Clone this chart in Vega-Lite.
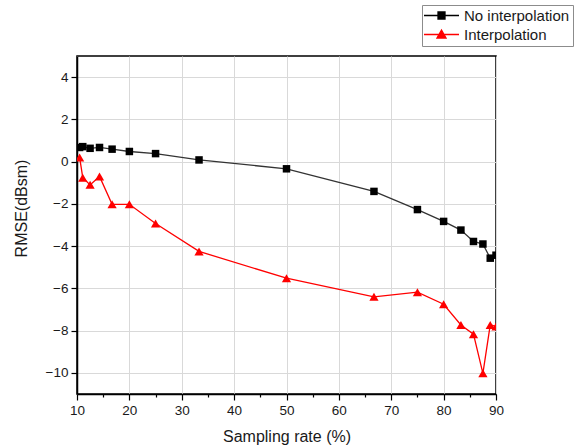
{
  "$schema": "https://vega.github.io/schema/vega-lite/v6.json",
  "autosize": {"type": "none"},
  "width": 419,
  "height": 338,
  "padding": {"left": 77, "top": 56, "right": 90, "bottom": 53},
  "background": "white",
  "config": {
    "font": "Liberation Sans",
    "view": {"stroke": "black", "strokeWidth": 1.5},
    "axis": {
      "domainColor": "black", "domainWidth": 1.5, "ticks": true, "tickColor": "black", "tickWidth": 1.2,
      "labelFont": "Liberation Sans", "labelFontSize": 13.5, "labelColor": "#1a1a1a", "labelFlush": false,
      "titleFont": "Liberation Sans", "titleFontSize": 16, "titleFontWeight": "normal", "titleColor": "#1a1a1a",
      "gridColor": "#d9d9d9", "gridWidth": 1
    }
  },
  "data": {"values": [
    {"rate": 10.5, "rmse": 0.67, "method": "No interpolation"},
    {"rate": 11.1, "rmse": 0.71, "method": "No interpolation"},
    {"rate": 12.5, "rmse": 0.63, "method": "No interpolation"},
    {"rate": 14.3, "rmse": 0.67, "method": "No interpolation"},
    {"rate": 16.7, "rmse": 0.59, "method": "No interpolation"},
    {"rate": 20, "rmse": 0.48, "method": "No interpolation"},
    {"rate": 25, "rmse": 0.38, "method": "No interpolation"},
    {"rate": 33.3, "rmse": 0.08, "method": "No interpolation"},
    {"rate": 50, "rmse": -0.34, "method": "No interpolation"},
    {"rate": 66.7, "rmse": -1.41, "method": "No interpolation"},
    {"rate": 75, "rmse": -2.27, "method": "No interpolation"},
    {"rate": 80, "rmse": -2.83, "method": "No interpolation"},
    {"rate": 83.3, "rmse": -3.24, "method": "No interpolation"},
    {"rate": 85.7, "rmse": -3.78, "method": "No interpolation"},
    {"rate": 87.5, "rmse": -3.9, "method": "No interpolation"},
    {"rate": 88.9, "rmse": -4.57, "method": "No interpolation"},
    {"rate": 90, "rmse": -4.43, "method": "No interpolation"},
    {"rate": 10.5, "rmse": 0.2, "method": "Interpolation"},
    {"rate": 11.1, "rmse": -0.76, "method": "Interpolation"},
    {"rate": 12.5, "rmse": -1.1, "method": "Interpolation"},
    {"rate": 14.3, "rmse": -0.7, "method": "Interpolation"},
    {"rate": 16.7, "rmse": -2.02, "method": "Interpolation"},
    {"rate": 20, "rmse": -2.02, "method": "Interpolation"},
    {"rate": 25, "rmse": -2.93, "method": "Interpolation"},
    {"rate": 33.3, "rmse": -4.25, "method": "Interpolation"},
    {"rate": 50, "rmse": -5.52, "method": "Interpolation"},
    {"rate": 66.7, "rmse": -6.4, "method": "Interpolation"},
    {"rate": 75, "rmse": -6.18, "method": "Interpolation"},
    {"rate": 80, "rmse": -6.75, "method": "Interpolation"},
    {"rate": 83.3, "rmse": -7.73, "method": "Interpolation"},
    {"rate": 85.7, "rmse": -8.17, "method": "Interpolation"},
    {"rate": 87.5, "rmse": -10.02, "method": "Interpolation"},
    {"rate": 88.9, "rmse": -7.73, "method": "Interpolation"},
    {"rate": 90, "rmse": -7.8, "method": "Interpolation"}
  ]},
  "resolve": {
    "axis": {"x": "independent"},
    "legend": {"color": "independent", "shape": "independent", "fill": "independent", "stroke": "independent", "size": "independent"},
    "scale": {"color": "independent", "shape": "independent", "size": "independent", "fill": "independent", "stroke": "independent"}
  },
  "layer": [
    {
      "mark": {"type": "line", "clip": true, "strokeWidth": 1.3},
      "encoding": {
        "x": {"field": "rate", "type": "quantitative",
              "scale": {"domain": [10, 90], "nice": false},
              "axis": {"orient": "bottom", "values": [10, 20, 30, 40, 50, 60, 70, 80, 90], "ticks": true, "tickSize": 6, "labelPadding": 3,
                       "title": "Sampling rate (%)", "titlePadding": 12, "grid": true}},
        "y": {"field": "rmse", "type": "quantitative",
              "scale": {"domain": [-11, 5], "nice": false, "zero": false},
              "axis": {"values": [-10, -8, -6, -4, -2, 0, 2, 4], "ticks": true, "tickSize": 6, "labelPadding": 3,
                       "title": "RMSE(dBsm)", "titlePadding": 16, "titleY": 152, "grid": true}},
        "color": {"field": "method", "type": "nominal",
                  "scale": {"domain": ["No interpolation", "Interpolation"], "range": ["#333333", "#ff0000"]},
                  "legend": null},
        "detail": {"field": "method"}
      }
    },
    {
      "mark": {"type": "point", "filled": true, "clip": true, "opacity": 1},
      "encoding": {
        "x": {"field": "rate", "type": "quantitative",
              "scale": {"domain": [10, 90], "nice": false},
              "axis": {"orient": "bottom", "values": [15, 25, 35, 45, 55, 65, 75, 85], "ticks": true, "tickSize": 3,
                       "labels": false, "domain": false, "grid": false, "title": null}},
        "y": {"field": "rmse", "type": "quantitative"},
        "shape": {"field": "method", "type": "nominal",
                  "scale": {"domain": ["No interpolation", "Interpolation"], "range": ["square", "triangle-up"]},
                  "legend": null},
        "size": {"field": "method", "type": "ordinal",
                 "scale": {"domain": ["No interpolation", "Interpolation"], "range": [56, 85]},
                 "legend": null},
        "color": {"field": "method", "type": "nominal",
                  "scale": {"domain": ["No interpolation", "Interpolation"], "range": ["#000000", "#ff0000"]},
                  "legend": null}
      }
    },
    {
      "transform": [{"filter": "datum.rate > 1000"}],
      "mark": {"type": "point", "filled": true, "opacity": 1, "size": 49, "strokeWidth": 1.3},
      "encoding": {
        "x": {"field": "rate", "type": "quantitative", "scale": {"domain": [10, 90], "nice": false}, "axis": null},
        "y": {"field": "rmse", "type": "quantitative"},
        "fill": {"field": "method", "type": "nominal",
                 "scale": {"domain": ["No interpolation", "Interpolation"], "range": ["#000000", "#ff0000"]}},
        "stroke": {"field": "method", "type": "nominal",
                   "scale": {"domain": ["No interpolation", "Interpolation"], "range": ["#000000", "#ff0000"]}},
        "shape": {"field": "method", "type": "nominal",
                  "scale": {"domain": ["No interpolation", "Interpolation"],
                            "range": ["M-5,0H5M-1,-1H1V1H-1Z", "M-5,0H5M0,-1.3L1.3,1L-1.3,1Z"]},
                  "legend": {
                    "title": null, "orient": "none", "legendX": 345, "legendY": -51,
                    "strokeColor": "#8c8c8c", "fillColor": "white", "padding": 3,
                    "labelFont": "Liberation Sans", "labelFontSize": 15, "labelColor": "#1a1a1a",
                    "symbolSize": 49, "symbolStrokeWidth": 1.3, "symbolOffset": 9, "labelOffset": 15, "rowPadding": 3
                  }}
      }
    }
  ]
}
